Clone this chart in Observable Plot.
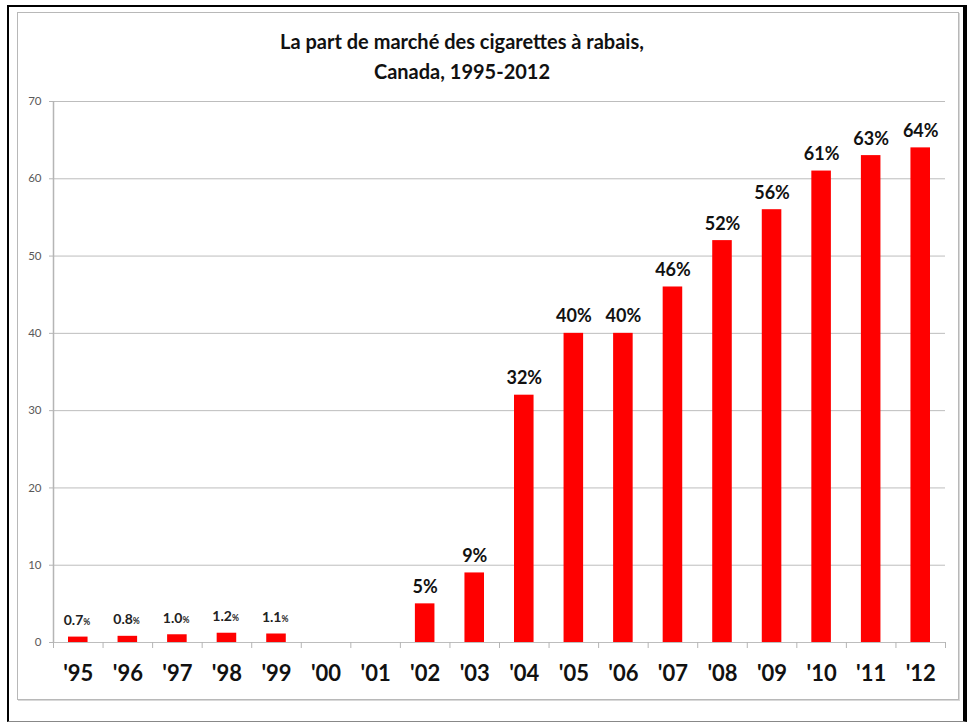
<!DOCTYPE html>
<html>
<head>
<meta charset="utf-8">
<script src="https://cdn.jsdelivr.net/npm/d3@7"></script>
<script src="https://cdn.jsdelivr.net/npm/@observablehq/plot@0.6"></script>
<style>
  html, body { margin: 0; padding: 0; background: #fff; }
  #wrap { position: relative; width: 967px; height: 723px; overflow: hidden; font-family: Lato, "Open Sans", sans-serif; }
  #outer { position: absolute; left: 7px; top: 5px; width: 960px; height: 717px; border-left: 2px solid #000; border-top: 2px solid #000; border-right: 4px solid #000; border-bottom: 1px solid #888; box-sizing: border-box; }
  #inner { position: absolute; left: 17px; top: 12px; width: 942px; height: 688px; border: 1px solid #b8b8b8; box-shadow: 1px 1px 0 #d8d8d8; box-sizing: border-box; }
  #title { position: absolute; left: 262px; width: 400px; top: 26px; text-align: center; font-weight: bold; font-size: 20px; line-height: 30px; color: #111; white-space: nowrap; }
  #chart { position: absolute; left: 0; top: 90px; }
</style>
</head>
<body>
<div id="wrap">
  <div id="outer"></div>
  <div id="inner"></div>
  <div id="title">La part de marché des cigarettes à rabais,<br>Canada, 1995-2012</div>
  <div id="chart"></div>
</div>
<script>
const years = [1995,1996,1997,1998,1999,2000,2001,2002,2003,2004,2005,2006,2007,2008,2009,2010,2011,2012];
const yearLabels = ["'95","'96","'97","'98","'99","'00","'01","'02","'03","'04","'05","'06","'07","'08","'09","'10","'11","'12"];
const share = [0.7,0.8,1.0,1.2,1.1,null,null,5,9,32,40,40,46,52,56,61,63,64];
const yTicks = [0,10,20,30,40,50,60,70];

const data = years.map((y, i) => ({year: y, label: yearLabels[i], v: share[i]})).filter(d => d.v != null);
const small = data.filter(d => d.v < 2);
const big = data.filter(d => d.v >= 2);
const xDomain = [years[0] - 0.5, years[years.length - 1] + 0.5];
const boundaries = [...years.map(y => y - 0.5), years[years.length - 1] + 0.5];
const labelOf = new Map(years.map((y, i) => [y, yearLabels[i]]));

const plot = Plot.plot({
  width: 967,
  height: 600,
  marginTop: 11,
  marginBottom: 48,
  marginLeft: 53,
  marginRight: 22,
  style: {fontFamily: "Lato, 'Open Sans', sans-serif", background: "transparent"},
  x: {type: "linear", domain: xDomain},
  y: {domain: [0, 70]},
  marks: [
    Plot.ruleY(yTicks, {stroke: "#bdbdbd", strokeWidth: 1}),
    Plot.ruleX([xDomain[0]], {stroke: "#b5b5b5", strokeWidth: 1.5}),
    Plot.axisY(yTicks, {tickSize: 4, tickPadding: 8, fontSize: 11.5, stroke: "#b5b5b5", fill: "#595959", label: null}),
    Plot.axisX(boundaries, {tickSize: 6, tickFormat: () => "", stroke: "#b5b5b5", label: null}),
    Plot.axisX(years, {tickSize: 0, tickPadding: 23, fontSize: 22, fontWeight: "bold", fill: "#111", tickFormat: d => labelOf.get(d), label: null}),
    Plot.rectY(data, {x1: d => d.year - 0.5, x2: d => d.year + 0.5, y: "v", insetLeft: 15, insetRight: 15, fill: "#ff0000"}),
    Plot.text(big, {x: "year", y: "v", text: d => d.v + "%", lineAnchor: "bottom", dy: -11, fontSize: 18, fontWeight: "bold", fill: "#111"}),
    Plot.text(small, {x: "year", y: "v", text: d => d.v.toFixed(1), lineAnchor: "bottom", textAnchor: "end", dx: 5, dy: -12, fontSize: 14, fontWeight: "bold", fill: "#222"}),
    Plot.text(small, {x: "year", y: "v", text: () => "%", lineAnchor: "bottom", textAnchor: "start", dx: 5, dy: -12, fontSize: 8.5, fontWeight: "bold", fill: "#222"})
  ]
});
document.getElementById("chart").appendChild(plot);
</script>
</body>
</html>
